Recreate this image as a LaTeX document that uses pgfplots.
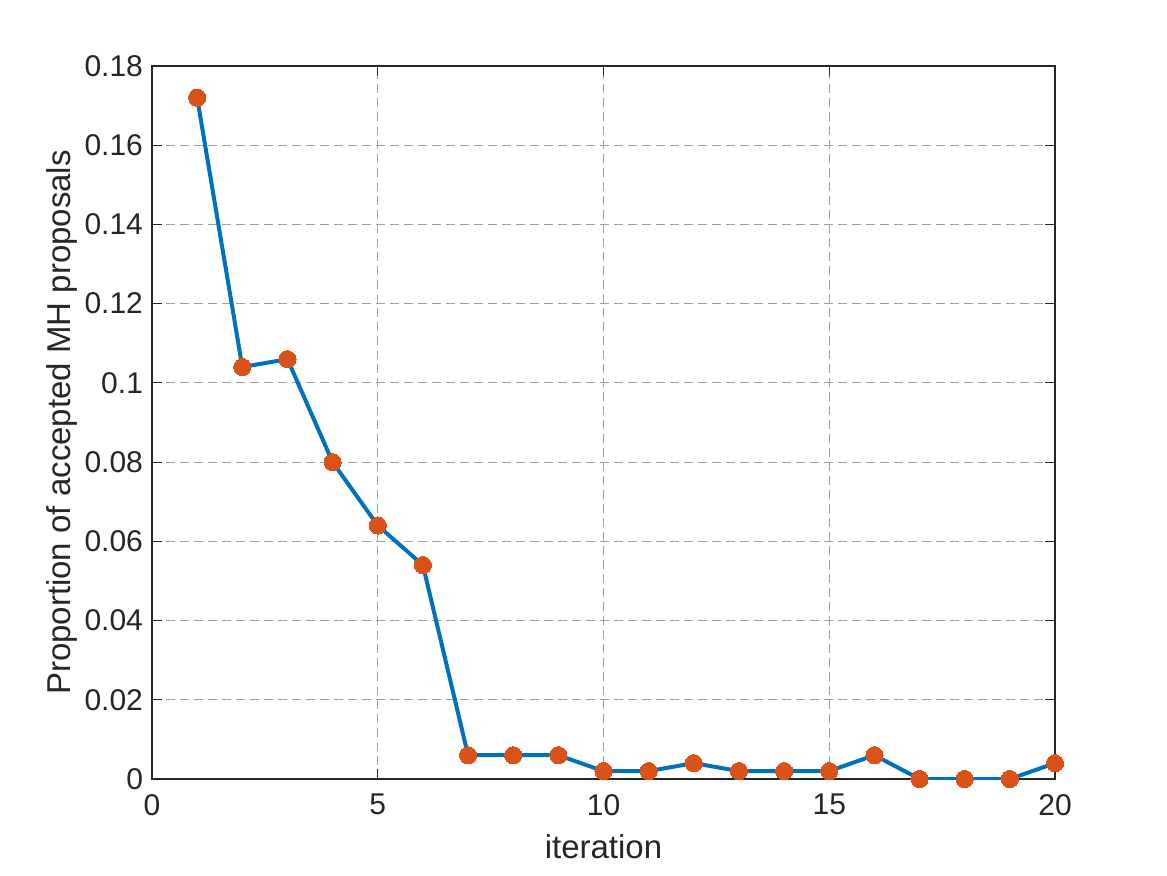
\documentclass[border=0pt]{standalone}
\usepackage{pgfplots}
\pgfplotsset{compat=1.18}
\usepackage{fontspec}
\setmainfont{Liberation Sans}
\definecolor{mblue}{RGB}{0,114,189}
\definecolor{morange}{RGB}{217,83,25}
\definecolor{axgray}{RGB}{38,38,38}
\begin{document}
\begin{tikzpicture}
\path[use as bounding box] (0,0) rectangle (583.5pt,437.5pt);
\begin{axis}[
  at={(76pt,48pt)}, anchor=south west,
  scale only axis, width=451.5pt, height=356.5pt,
  xmin=0, xmax=20, ymin=0, ymax=0.18,
  xtick={0,5,10,15,20},
  ytick={0,0.02,0.04,0.06,0.08,0.1,0.12,0.14,0.16,0.18},
  yticklabels={0,0.02,0.04,0.06,0.08,0.1,0.12,0.14,0.16,0.18},
  xticklabels={0,5,10,15,20},
  tick label style={text=axgray, font=\fontsize{15pt}{18pt}\selectfont},
  axis line style={axgray, line width=0.6pt},
  tick style={axgray, line width=0.6pt},
  major tick length=5pt,
  tick align=inside,
  grid=major,
  major grid style={gray!75, dash pattern=on 4.5pt off 2.5pt, line width=0.5pt},
  xlabel={iteration},
  ylabel={Proportion of accepted MH proposals},
  every axis x label/.style={at={(axis description cs:0.5,0)}, anchor=center, yshift=-34pt, text=axgray, font=\fontsize{16.5pt}{19pt}\selectfont},
  every axis y label/.style={at={(axis description cs:0,0.5)}, rotate=90, anchor=center, yshift=45pt, text=axgray, font=\fontsize{16.5pt}{19pt}\selectfont},
  yticklabel style={xshift=-1pt},
  xticklabel style={yshift=-4pt},
]
\addplot[color=mblue, line width=2pt, mark=*, mark size=4.3pt,
  mark options={fill=morange, draw=morange, line width=0pt}]
coordinates {
(1,0.172) (2,0.104) (3,0.106) (4,0.080) (5,0.064) (6,0.054) (7,0.006)
(8,0.006) (9,0.006) (10,0.002) (11,0.002) (12,0.004) (13,0.002) (14,0.002)
(15,0.002) (16,0.006) (17,0) (18,0) (19,0) (20,0.004)
};
\end{axis}
\end{tikzpicture}
\end{document}
